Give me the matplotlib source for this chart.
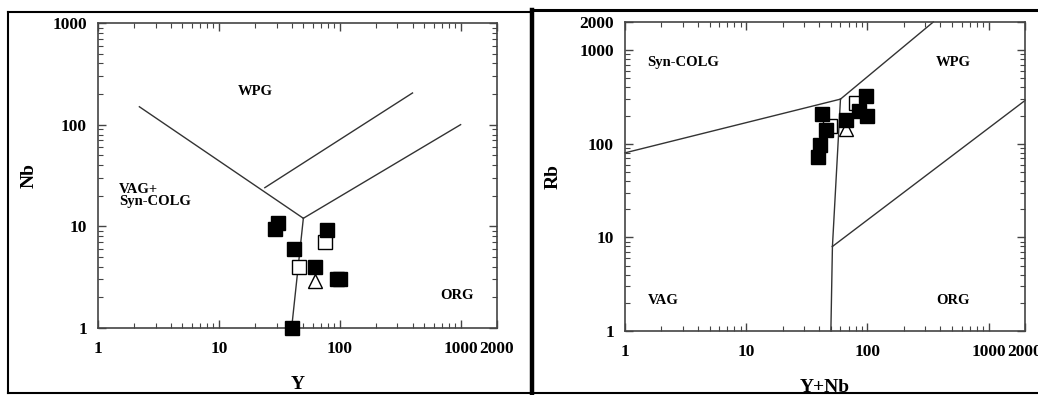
import matplotlib.pyplot as plt
import matplotlib.ticker as mticker
from matplotlib.lines import Line2D

# Nb-Y diagram (left)
nb_y_filled_y = [29, 31, 42, 78, 63, 95, 100, 40]
nb_y_filled_nb = [9.5, 10.8, 6.0, 9.2, 4.0, 3.0, 3.0, 1.0]
nb_y_open_y = [75, 46]
nb_y_open_nb = [7.0, 4.0]
nb_y_tri_y = [62]
nb_y_tri_nb = [2.9]

# boundary lines (Y, Nb)
nb_y_lines = [
    ([2.2, 50], [150, 12]),
    ([50, 40], [12, 1]),
    ([50, 1000], [12, 100]),
    ([24, 400], [24, 205]),
]

# Rb-(Y+Nb) diagram (right)
rb_filled_ynb = [42, 46, 41, 39, 67, 98, 86, 100]
rb_filled_rb = [210, 140, 98, 73, 180, 325, 225, 200]
rb_open_ynb = [49, 80]
rb_open_rb = [155, 270]
rb_tri_ynb = [67]
rb_tri_rb = [145]

rb_lines = [
    ([1, 60], [80, 300]),
    ([60, 350], [300, 2000]),
    ([60, 51.5], [300, 8]),
    ([51.5, 50], [8, 1]),
    ([51.5, 2000], [8, 290]),
]

tick_vals = [1, 10, 100, 1000, 2000]
tick_labels = ['1', '10', '100', '1000', '2000']

plt.rcParams['font.family'] = 'Liberation Serif'
plt.rcParams['font.weight'] = 'bold'

fig = plt.figure(figsize=(10.38, 3.95), dpi=100)
ax1 = fig.add_axes([0.0944, 0.1696, 0.3844, 0.7722])
ax2 = fig.add_axes([0.6021, 0.162, 0.3854, 0.7823])

edge = '#444444'
lc = '#333333'


def style(ax, ylim, yticks, ylabels):
    ax.set_xscale('log')
    ax.set_yscale('log')
    ax.set_xlim(1, 2000)
    ax.set_ylim(*ylim)
    ax.xaxis.set_major_locator(mticker.FixedLocator(tick_vals))
    ax.xaxis.set_major_formatter(mticker.FixedFormatter(tick_labels))
    ax.yaxis.set_major_locator(mticker.FixedLocator(yticks))
    ax.yaxis.set_major_formatter(mticker.FixedFormatter(ylabels))
    ax.xaxis.set_minor_locator(mticker.LogLocator(subs=range(2, 10)))
    ax.yaxis.set_minor_locator(mticker.LogLocator(subs=range(2, 10)))
    ax.xaxis.set_minor_formatter(mticker.NullFormatter())
    ax.yaxis.set_minor_formatter(mticker.NullFormatter())
    ax.tick_params(which='both', direction='in', top=True, right=True,
                   color=edge, labelsize=12.5)
    ax.tick_params(which='major', length=6, width=1)
    ax.tick_params(which='minor', length=3.5, width=0.8)
    ax.tick_params(axis='x', pad=9)
    ax.tick_params(axis='y', pad=8)
    for s in ax.spines.values():
        s.set_color(edge)
        s.set_linewidth(1.2)


style(ax1, (1, 1000), [1, 10, 100, 1000], ['1', '10', '100', '1000'])
style(ax2, (1, 2000), tick_vals, tick_labels)

for xs, ys in nb_y_lines:
    ax1.plot(xs, ys, color=lc, lw=1)
for xs, ys in rb_lines:
    ax2.plot(xs, ys, color=lc, lw=1)

ms = 9.5
for ax, fx, fy, ox, oy, tx, ty in [
        (ax1, nb_y_filled_y, nb_y_filled_nb, nb_y_open_y, nb_y_open_nb, nb_y_tri_y, nb_y_tri_nb),
        (ax2, rb_filled_ynb, rb_filled_rb, rb_open_ynb, rb_open_rb, rb_tri_ynb, rb_tri_rb)]:
    ax.plot(ox, oy, 's', ms=ms, mfc='white', mec='black', mew=1, ls='none', zorder=3)
    ax.plot(tx, ty, '^', ms=ms + 1, mfc='white', mec='black', mew=1, ls='none', zorder=3)
    ax.plot(fx, fy, 's', ms=ms, mfc='black', mec='black', ls='none', zorder=4)
    for c in ax.get_children():
        if isinstance(c, Line2D):
            c.set_clip_on(False)

ax1.set_xlabel('Y', fontsize=14, fontweight='bold')
ax1.set_ylabel('Nb', fontsize=14, fontweight='bold')
ax1.xaxis.set_label_coords(0.5, -0.158)
ax1.yaxis.set_label_coords(-0.152, 0.5)
ax2.set_xlabel('Y+Nb', fontsize=14, fontweight='bold')
ax2.set_ylabel('Rb', fontsize=14, fontweight='bold')
ax2.xaxis.set_label_coords(0.5, -0.155)
ax2.yaxis.set_label_coords(-0.158, 0.5)

tk = dict(fontsize=10.5, fontweight='bold')
ax1.text(0.395, 0.775, 'WPG', transform=ax1.transAxes, ha='center', va='center', **tk)
ax1.text(0.053, 0.435, 'VAG+\nSyn-COLG', transform=ax1.transAxes, ha='left', va='center',
         linespacing=0.95, **tk)
ax1.text(0.9, 0.108, 'ORG', transform=ax1.transAxes, ha='center', va='center', **tk)
ax2.text(0.145, 0.87, 'Syn-COLG', transform=ax2.transAxes, ha='center', va='center', **tk)
ax2.text(0.82, 0.87, 'WPG', transform=ax2.transAxes, ha='center', va='center', **tk)
ax2.text(0.095, 0.1, 'VAG', transform=ax2.transAxes, ha='center', va='center', **tk)
ax2.text(0.82, 0.1, 'ORG', transform=ax2.transAxes, ha='center', va='center', **tk)

# panel frames (figure pixels -> fraction)
W, H = 1038.0, 395.0


def fl(x0, y0, x1, y1, lw):
    fig.add_artist(Line2D([x0 / W, x1 / W], [1 - y0 / H, 1 - y1 / H],
                          color='black', lw=lw, transform=fig.transFigure))


fl(8, 12, 530, 12, 1.5)
fl(8, 12, 8, 393, 1.5)
fl(8, 393, 1038, 393, 1.5)
fl(531, 10, 1038, 10, 2.2)
fl(531.5, 10, 531.5, 393, 3.2)

fig.savefig('out.png', dpi=100)
